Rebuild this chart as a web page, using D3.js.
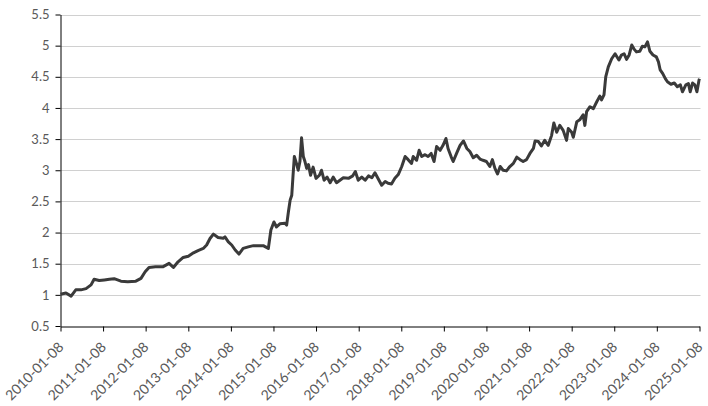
<!DOCTYPE html>
<html>
<head>
<meta charset="utf-8">
<script src="https://cdn.jsdelivr.net/npm/d3@7"></script>
<style>
  body { margin: 0; background: #fff; }
  svg text { font-family: Lato, "Open Sans", sans-serif; }
</style>
</head>
<body>
<svg id="chart" width="708" height="406"></svg>
<script>
// values
const dates = [
  '2010-01-08','2010-02-24','2010-04-09','2010-05-19','2010-07-02','2010-08-15','2010-09-27','2010-10-23','2010-12-06',
  '2011-01-19','2011-03-03','2011-04-13','2011-06-10','2011-08-08','2011-10-16','2011-11-29',
  '2012-01-04','2012-02-06','2012-04-01','2012-06-03','2012-07-27','2012-09-02','2012-10-12','2012-11-25',
  '2013-01-08','2013-02-21','2013-04-01','2013-05-16','2013-06-14','2013-07-13','2013-08-11','2013-09-20','2013-11-03','2013-11-18','2013-12-17',
  '2014-01-15','2014-02-14','2014-03-18','2014-04-23','2014-06-06','2014-07-20','2014-08-29','2014-10-12','2014-11-25','2014-12-17',
  '2015-01-12','2015-02-03','2015-03-04','2015-04-17','2015-05-01','2015-05-16','2015-05-31','2015-06-14','2015-06-25','2015-07-06',
  '2015-07-24','2015-08-08','2015-08-23','2015-09-06','2015-09-21','2015-10-05','2015-10-20','2015-11-04','2015-11-22','2015-12-14',
  '2016-01-08','2016-02-06','2016-02-24','2016-03-17','2016-04-12','2016-05-08','2016-06-03','2016-07-02','2016-07-31','2016-08-29',
  '2016-10-12','2016-11-18','2016-12-10',
  '2017-01-04','2017-02-03','2017-03-04','2017-04-02','2017-05-01','2017-05-27','2017-06-25','2017-07-24','2017-08-23','2017-09-17',
  '2017-10-16','2017-11-14','2017-12-13',
  '2018-01-12','2018-02-10','2018-03-08','2018-04-06','2018-04-20','2018-05-19','2018-06-10','2018-07-02','2018-07-31','2018-08-26',
  '2018-09-21','2018-10-16','2018-11-07','2018-12-07',
  '2019-01-01','2019-01-26','2019-02-13','2019-03-11','2019-03-29','2019-04-27','2019-05-27','2019-06-25','2019-07-24','2019-08-19',
  '2019-09-17','2019-10-16','2019-11-14','2019-12-10',
  '2020-01-08','2020-02-06','2020-02-28','2020-03-21','2020-04-12','2020-05-05','2020-05-30','2020-06-28','2020-07-27','2020-08-26',
  '2020-09-24','2020-10-23','2020-11-18','2020-12-17',
  '2021-01-15','2021-02-14','2021-02-28','2021-03-29','2021-04-23','2021-05-22','2021-06-21','2021-07-20','2021-08-08','2021-09-02',
  '2021-09-28','2021-10-27','2021-11-25','2021-12-10',
  '2022-01-08','2022-01-22','2022-02-21','2022-03-18','2022-04-16','2022-05-01','2022-05-16','2022-06-14','2022-07-13','2022-08-11',
  '2022-09-06','2022-09-21','2022-10-12','2022-10-27','2022-11-18','2022-12-17',
  '2023-01-15','2023-02-17','2023-03-11','2023-04-02','2023-04-24','2023-05-16','2023-06-07','2023-06-29','2023-07-17','2023-08-15',
  '2023-09-06','2023-09-28','2023-10-20','2023-11-10','2023-12-06',
  '2024-01-04','2024-01-22','2024-02-06','2024-02-28','2024-03-21','2024-04-08','2024-05-08','2024-06-06','2024-07-02','2024-07-28',
  '2024-08-15','2024-09-13','2024-10-05','2024-10-20','2024-11-10','2024-11-29','2024-12-17',
  '2025-01-04','2025-01-08'
]
const values = [
  1.01,1.03,0.98,1.08,1.08,1.10,1.16,1.25,1.23,
  1.24,1.25,1.26,1.22,1.21,1.22,1.265,
  1.37,1.44,1.45,1.45,1.505,1.44,1.53,1.60,
  1.62,1.675,1.71,1.745,1.80,1.905,1.975,1.92,1.91,1.93,1.85,
  1.80,1.72,1.655,1.745,1.77,1.79,1.79,1.79,1.745,2.04,
  2.17,2.09,2.14,2.15,2.12,2.33,2.52,2.60,2.92,3.22,
  3.11,3.00,3.14,3.52,3.22,3.14,3.03,3.09,2.92,3.05,
  2.87,2.92,3.00,2.84,2.89,2.80,2.89,2.80,2.84,2.88,
  2.87,2.91,2.98,
  2.84,2.89,2.84,2.91,2.88,2.96,2.86,2.76,2.82,2.79,
  2.78,2.87,2.93,
  3.06,3.22,3.17,3.11,3.22,3.16,3.32,3.22,3.25,3.22,
  3.27,3.14,3.38,3.32,
  3.40,3.51,3.35,3.22,3.14,3.27,3.40,3.47,3.35,3.30,
  3.20,3.24,3.18,3.16,
  3.14,3.06,3.17,3.03,2.94,3.06,3.00,2.99,3.06,3.11,
  3.21,3.17,3.14,3.17,
  3.27,3.35,3.47,3.46,3.39,3.48,3.40,3.56,3.76,3.61,
  3.72,3.64,3.48,3.67,
  3.61,3.53,3.78,3.81,3.89,3.72,3.94,4.02,3.99,4.10,
  4.19,4.13,4.21,4.50,4.66,4.79,
  4.87,4.77,4.85,4.87,4.78,4.85,5.01,4.94,4.90,4.91,
  4.99,4.98,5.06,4.91,4.85,
  4.82,4.74,4.61,4.55,4.47,4.42,4.38,4.40,4.34,4.37,
  4.26,4.37,4.39,4.26,4.40,4.37,4.26,
  4.45,4.47
]
const yTicks = [0.5, 1, 1.5, 2, 2.5, 3, 3.5, 4, 4.5, 5, 5.5]
const xTickLabels = ['2010-01-08','2011-01-08','2012-01-08','2013-01-08','2014-01-08','2015-01-08','2016-01-08','2017-01-08',
  '2018-01-08','2019-01-08','2020-01-08','2021-01-08','2022-01-08','2023-01-08','2024-01-08','2025-01-08']

const parse = d3.timeParse('%Y-%m-%d')
const data = dates.map((d, i) => ({ date: parse(d), value: values[i] }))

const svg = d3.select('#chart')
const plot = { left: 60.5, right: 699.5, top: 14.5, bottom: 326 }

const x = d3.scaleTime()
  .domain([parse(xTickLabels[0]), parse(xTickLabels[xTickLabels.length - 1])])
  .range([plot.left, plot.right])
const y = d3.scaleLinear()
  .domain([0.5, 5.5])
  .range([plot.bottom, plot.top])

// gridlines
svg.append('g')
  .selectAll('line')
  .data(yTicks.slice(1))
  .enter().append('line')
  .attr('x1', plot.left)
  .attr('x2', plot.right + 1)
  .attr('y1', d => Math.round(y(d)) + 0.5)
  .attr('y2', d => Math.round(y(d)) + 0.5)
  .attr('stroke', '#d0d0d0')
  .attr('stroke-width', 1)

// y axis
const yAxis = svg.append('g')
  .attr('transform', `translate(${plot.left},0)`)
  .call(d3.axisLeft(y).tickValues(yTicks).tickSize(5).tickSizeOuter(0).tickFormat(d3.format('')))
yAxis.select('.domain').attr('stroke', '#000')
yAxis.selectAll('.tick line').attr('stroke', '#000')
yAxis.selectAll('.tick text')
  .attr('x', -11)
  .attr('fill', '#595959')
  .style('font-size', '13px')

// x axis
const xAxis = svg.append('g')
  .attr('transform', `translate(0,${plot.bottom + 0.5})`)
  .call(d3.axisBottom(x).tickValues(xTickLabels.map(parse)).tickSize(5).tickSizeOuter(0).tickFormat(d3.timeFormat('%Y-%m-%d')))
xAxis.select('.domain').attr('stroke', '#000')
xAxis.selectAll('.tick line').attr('stroke', '#000')
xAxis.selectAll('.tick text')
  .attr('fill', '#595959')
  .style('font-size', '14px')
  .attr('text-anchor', 'end')
  .attr('x', 0)
  .attr('y', 0)
  .attr('dy', '0.35em')
  .attr('transform', 'translate(0,18) rotate(-45)')

// the series line
const line = d3.line()
  .x(d => x(d.date))
  .y(d => y(d.value))
svg.append('path')
  .datum(data)
  .attr('fill', 'none')
  .attr('stroke', '#3a3a3a')
  .attr('stroke-width', 3)
  .attr('stroke-linejoin', 'round')
  .attr('d', line)
</script>
</body>
</html>
